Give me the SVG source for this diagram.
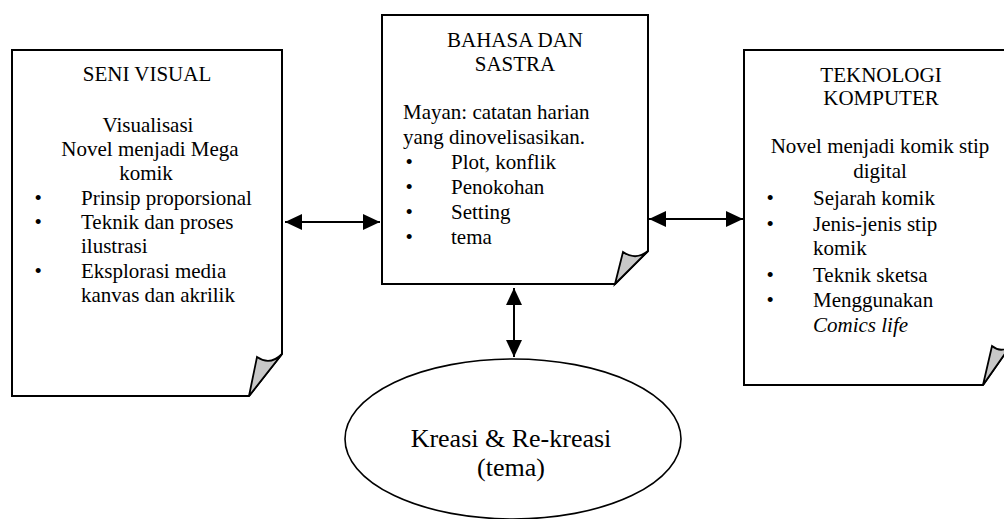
<svg xmlns="http://www.w3.org/2000/svg" width="1004" height="519" viewBox="0 0 1004 519" font-family="'Liberation Serif', 'Times New Roman', serif">
<defs>
<style>
.box{fill:#fff;stroke:#000;stroke-width:2;stroke-linejoin:miter}
.fold{fill:#c8c8c8;stroke:#000;stroke-width:1.8;stroke-linejoin:miter}
text{font-family:'Liberation Serif','Times New Roman',serif;font-size:21px;fill:#000}
.c{text-anchor:middle}
.big{font-size:26px}
.conn{stroke:#000;stroke-width:2;fill:none}
</style>
<marker id="ah" viewBox="0 0 17 16" refX="17" refY="8" markerWidth="17" markerHeight="16" markerUnits="userSpaceOnUse" orient="auto-start-reverse">
<path d="M0,0 L17,8 L0,16 Z" fill="#000"/>
</marker>
</defs>
<rect width="1004" height="519" fill="#fff"/>

<g id="seni-visual">
<path class="box" d="M12,50 H282 V354 L249,396 H12 Z"/>
<path class="fold" d="M249,396 L257,357 Q270,366 282,354 Z"/>
<text class="c" x="147" y="81">SENI VISUAL</text>
<text class="c" x="148" y="132">Visualisasi</text>
<text class="c" x="150" y="156">Novel menjadi Mega</text>
<text class="c" x="146" y="180">komik</text>
<text x="34.5" y="205">•</text><text x="81" y="205">Prinsip proporsional</text>
<text x="34.5" y="229">•</text><text x="81" y="229">Teknik dan proses</text>
<text x="81" y="253">ilustrasi</text>
<text x="34.5" y="278">•</text><text x="81" y="278">Eksplorasi media</text>
<text x="81" y="302">kanvas dan akrilik</text>
</g>

<g id="bahasa-sastra">
<path class="box" d="M382,15 H648 V251 L615,284 H382 Z"/>
<path class="fold" d="M615,284 L623,252 Q636,261 648,251 Z"/>
<text class="c" x="515" y="47">BAHASA DAN</text>
<text class="c" x="515" y="71">SASTRA</text>
<text x="403" y="119">Mayan: catatan harian</text>
<text x="403" y="144">yang dinovelisasikan.</text>
<text x="405.5" y="169">•</text><text x="451" y="169">Plot, konflik</text>
<text x="405.5" y="194">•</text><text x="451" y="194">Penokohan</text>
<text x="405.5" y="219">•</text><text x="451" y="219">Setting</text>
<text x="405.5" y="244">•</text><text x="451" y="244">tema</text>
</g>

<g id="teknologi-komputer">
<path class="box" d="M744,50 H1011 V345 L983,385 H744 Z"/>
<path class="fold" d="M983,385 L992,346 Q1002,354 1011,345 Z"/>
<text class="c" x="881" y="82">TEKNOLOGI</text>
<text class="c" x="881" y="105">KOMPUTER</text>
<text class="c" x="880" y="153">Novel menjadi komik stip</text>
<text class="c" x="880" y="178">digital</text>
<text x="766.5" y="205">•</text><text x="813" y="205">Sejarah komik</text>
<text x="766.5" y="231">•</text><text x="813" y="231">Jenis-jenis stip</text>
<text x="813" y="255">komik</text>
<text x="766.5" y="282">•</text><text x="813" y="282">Teknik sketsa</text>
<text x="766.5" y="307">•</text><text x="813" y="307">Menggunakan</text>
<text x="813" y="332" font-style="italic">Comics life</text>
</g>

<g id="kreasi">
<ellipse cx="513" cy="439" rx="168" ry="80" fill="#fff" stroke="#000" stroke-width="1.6"/>
<text class="c big" x="511" y="447">Kreasi &amp; Re-kreasi</text>
<text class="c big" x="511" y="476">(tema)</text>
</g>

<g id="connectors">
<line class="conn" x1="285" y1="222" x2="380" y2="222" marker-start="url(#ah)" marker-end="url(#ah)"/>
<line class="conn" x1="649" y1="219" x2="743" y2="219" marker-start="url(#ah)" marker-end="url(#ah)"/>
<line class="conn" x1="514" y1="288" x2="514" y2="357" marker-start="url(#ah)" marker-end="url(#ah)"/>
</g>
</svg>
